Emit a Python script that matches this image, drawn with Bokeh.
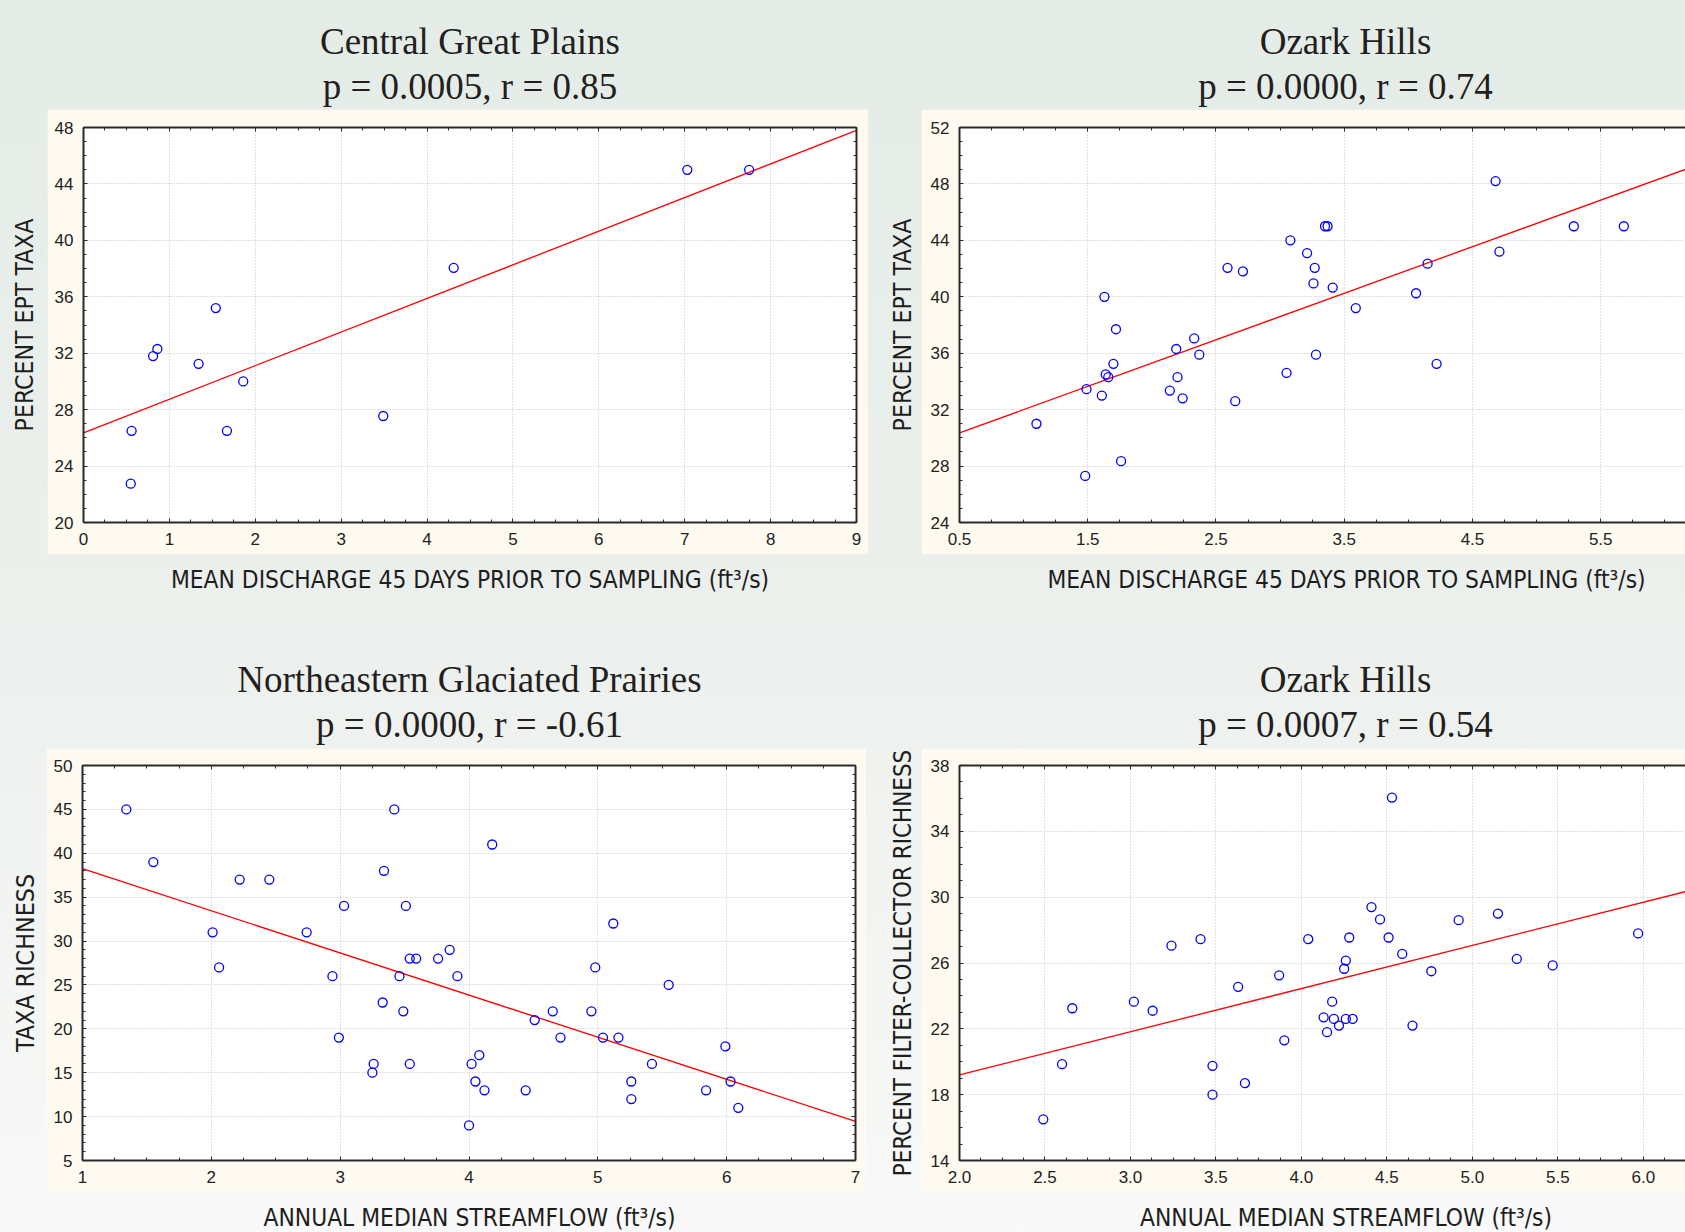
import numpy as np
from bokeh.plotting import figure
from bokeh.layouts import row, column
from bokeh.models import Range1d, LinearAxis, FixedTicker, NumeralTickFormatter
from bokeh.core.properties import value
from bokeh.embed import file_html
from bokeh.resources import INLINE

# ---------------- data ----------------
# Central Great Plains
cgp_x = [7.03, 7.75, 4.31, 1.54, 0.86, 0.81, 1.34, 1.86, 3.49, 0.56, 1.67, 0.55]
cgp_y = [45.0, 45.0, 38.05, 35.2, 32.3, 31.8, 31.25, 30.0, 27.55, 26.5, 26.5, 22.75]
cgp_fit_x = [0.0, 9.0]
cgp_fit_y = [26.35, 47.8]

# Ozark Hills (EPT)
oz1_x = [4.68, 3.35, 3.37, 5.29, 5.68, 3.08, 3.21, 4.71, 4.15, 2.59, 2.71, 3.27,
         3.26, 3.41, 4.06, 1.63, 3.59, 1.72, 2.33, 2.19, 2.37, 3.28, 1.70, 4.22,
         1.64, 1.66, 2.20, 3.05, 1.49, 2.14, 1.61, 2.24, 2.65, 1.10, 1.76, 1.48]
oz1_y = [48.2, 45.0, 45.0, 45.0, 45.0, 44.0, 43.1, 43.2, 42.35, 42.05, 41.8, 42.05,
         40.95, 40.65, 40.25, 40.0, 39.2, 37.7, 37.05, 36.3, 35.9, 35.9, 35.25, 35.25,
         34.5, 34.3, 34.3, 34.6, 33.45, 33.35, 33.0, 32.8, 32.6, 31.0, 28.35, 27.3]
oz1_fit_x = [0.5, 6.5]
oz1_fit_y = [30.35, 50.15]

# Northeastern Glaciated Prairies
ngp_x = [1.34, 3.42, 4.18, 1.55, 3.34, 2.22, 2.45, 3.03, 3.51, 5.12, 2.01, 2.74,
         3.85, 3.54, 3.59, 3.76, 2.06, 4.98, 2.94, 3.46, 3.91, 5.55, 3.33, 3.49,
         4.65, 4.95, 4.51, 2.99, 4.71, 5.04, 5.16, 5.99, 4.08, 3.26, 3.54, 4.02,
         5.42, 3.25, 4.05, 5.26, 6.03, 4.12, 4.44, 5.84, 5.26, 6.09, 4.00]
ngp_y = [45, 45, 41, 39, 38, 37, 37, 34, 34, 32, 31, 31,
         29, 28, 28, 28, 27, 27, 26, 26, 26, 25, 23, 22,
         22, 22, 21, 19, 19, 19, 19, 18, 17, 16, 16, 16,
         16, 15, 14, 14, 14, 13, 13, 13, 12, 11, 9]
ngp_fit_x = [1.0, 7.0]
ngp_fit_y = [38.25, 9.45]

# Ozark Hills (filter-collector)
oz2_x = [4.53, 4.41, 5.15, 4.46, 4.92, 5.97, 3.41, 4.04, 4.28, 4.51, 3.24, 4.59,
         4.26, 5.26, 4.25, 5.47, 4.76, 3.87, 3.63, 3.02, 4.18, 2.66, 3.13, 4.13,
         4.19, 4.26, 4.30, 4.22, 4.65, 4.15, 3.90, 2.60, 3.48, 3.67, 3.48, 2.49]
oz2_y = [36.05, 29.4, 29.0, 28.65, 28.6, 27.8, 27.45, 27.45, 27.55, 27.55, 27.05, 26.55,
         26.15, 26.25, 25.65, 25.85, 25.5, 25.25, 24.55, 23.65, 23.65, 23.25, 23.1, 22.7,
         22.6, 22.6, 22.6, 22.2, 22.2, 21.8, 21.3, 19.85, 19.75, 18.7, 18.0, 16.5]
oz2_fit_x = [2.0, 6.5]
oz2_fit_y = [19.2, 31.0]

titles = ["Central Great Plains", "Ozark Hills", "Northeastern Glaciated Prairies", "Ozark Hills"]
stats = ["p = 0.0005, r = 0.85", "p = 0.0000, r = 0.74", "p = 0.0000, r = -0.61", "p = 0.0007, r = 0.54"]
xtitles = ["MEAN DISCHARGE 45 DAYS PRIOR TO SAMPLING (ft\u00b3/s)",
           "MEAN DISCHARGE 45 DAYS PRIOR TO SAMPLING (ft\u00b3/s)",
           "ANNUAL MEDIAN STREAMFLOW (ft\u00b3/s)",
           "ANNUAL MEDIAN STREAMFLOW (ft\u00b3/s)"]
ytitles = ["PERCENT EPT TAXA", "PERCENT EPT TAXA", "TAXA RICHNESS", "PERCENT FILTER-COLLECTOR RICHNESS"]

# ---------------- style ----------------
CREAM = "#FEFAEF"
FRAME = "#2A2A2A"
GRID = "#C2C2C2"
TXT = "#1E1E1E"
SERIF = "Liberation Serif"
SANS = "Liberation Sans"
COND = "DejaVu Sans Condensed, Liberation Sans"


def band(width, height):
    p = figure(width=width, height=height, x_range=Range1d(0, width), y_range=Range1d(0, height),
               output_backend="svg", toolbar_location=None, title=None,
               x_axis_location=None, y_axis_location=None, min_border=0,
               outline_line_color=None, border_fill_color=None, background_fill_color=None)
    p.xgrid.visible = False
    p.ygrid.visible = False
    return p


def put_text(p, x, y_from_top, txt, font, size, color=TXT, angle=0.0):
    h = p.height
    p.text(x=[x], y=[h - y_from_top], text=[txt], text_font=value(font), text_font_size=value(size),
           text_color=color, text_align="center", text_baseline="middle", angle=angle)


def ylab_band(width, height, bt, bb, cx, txt, size):
    # the y title is the (unclipped) axis label of an otherwise invisible axis;
    # rows align frames, so the label is centred on the neighbouring plot frame
    L = width - 3
    p = figure(width=width, height=height, x_range=Range1d(0, 1), y_range=Range1d(0, 1),
               output_backend="svg", toolbar_location=None, title=None,
               x_axis_location=None, y_axis_location="left",
               min_border_left=L, min_border_right=0, min_border_top=bt, min_border_bottom=bb,
               outline_line_color=None, border_fill_color=None, background_fill_color=None)
    p.xgrid.visible = False
    p.ygrid.visible = False
    ax = p.yaxis[0]
    ax.ticker = FixedTicker(ticks=[], minor_ticks=[])
    ax.axis_line_color = None
    ax.major_tick_line_color = None
    ax.minor_tick_line_color = None
    ax.major_label_text_color = None
    ax.major_tick_in = 0
    ax.major_tick_out = 0
    ax.minor_tick_in = 0
    ax.minor_tick_out = 0
    ax.major_label_standoff = 0
    ax.axis_label = txt
    ax.axis_label_text_font = COND
    ax.axis_label_text_font_size = size
    ax.axis_label_text_font_style = "normal"
    ax.axis_label_text_color = TXT
    ax.axis_label_standoff = max(0, int(round(L - cx - 13)))
    return p


def panel(width, height, bl, bt, br, bb, xr, yr, xt, xm, yt, ym, xfmt,
          xs, ys, fx, fy, right_axis=True):
    p = figure(width=width, height=height, x_range=Range1d(*xr), y_range=Range1d(*yr),
               output_backend="svg", toolbar_location=None, title=None,
               min_border_left=bl, min_border_top=bt, min_border_right=br, min_border_bottom=bb,
               border_fill_color=CREAM, background_fill_color="white", outline_line_color=None)
    xtick = FixedTicker(ticks=xt, minor_ticks=xm)
    ytick = FixedTicker(ticks=yt, minor_ticks=ym)
    top = LinearAxis()
    p.add_layout(top, "above")
    extra = [top]
    if right_axis:
        rgt = LinearAxis()
        p.add_layout(rgt, "right")
        extra.append(rgt)
    for ax in p.xaxis:
        ax.ticker = xtick
        ax.formatter = NumeralTickFormatter(format=xfmt)
    for ax in p.yaxis:
        ax.ticker = ytick
        ax.formatter = NumeralTickFormatter(format="0")
    for ax in p.axis:
        ax.axis_line_color = FRAME
        ax.axis_line_width = 2
        ax.major_tick_in = 4
        ax.major_tick_out = 0
        ax.minor_tick_in = 3
        ax.minor_tick_out = 0
        ax.major_tick_line_color = FRAME
        ax.minor_tick_line_color = FRAME
        ax.major_label_text_font = SANS
        ax.major_label_text_font_size = "17px"
        ax.major_label_text_color = "#222222"
        ax.major_label_standoff = 10
    for ax in extra:
        ax.major_label_text_color = None
        ax.major_label_text_font_size = "1px"
        ax.major_label_standoff = 0
    p.xgrid.ticker = xtick
    p.ygrid.ticker = ytick
    p.grid.grid_line_color = GRID
    p.grid.grid_line_dash = "1 2"
    p.grid.grid_line_width = 1
    p.line(fx, fy, line_color="#FF0000", line_width=1.3)
    p.scatter(xs, ys, marker="circle", size=9, fill_color=None,
              line_color="#0000FF", line_width=1.3)
    return p


def ticks(a, b, step):
    return list(np.round(np.arange(a, b + step / 2, step), 4))


W = 1685
TITLE_SIZE = "37px"
XT_SIZE = "24.3px"

# Row A: titles of the top row
bandA = band(W, 109)
for cx, t, s in [(469.5, titles[0], stats[0]), (1345, titles[1], stats[1])]:
    put_text(bandA, cx, 41, t, SERIF, TITLE_SIZE, "#231F20")
    put_text(bandA, cx, 86, s, SERIF, TITLE_SIZE, "#231F20")

# Row B: top plots
yA = ylab_band(47, 445, 18, 32, 25.5, ytitles[0], "24.6px")
pA = panel(821, 445, 36, 18, 12, 32, (0, 9), (20, 48),
           ticks(0, 9, 1), ticks(0, 9, 0.25), ticks(20, 48, 4), ticks(20, 48, 1), "0",
           cgp_x, cgp_y, cgp_fit_x, cgp_fit_y)
yB = ylab_band(53, 445, 18, 32, 35, ytitles[1], "24.6px")
pB = panel(764, 445, 38, 18, 0, 32, (0.5, 6.161), (24, 52),
           ticks(0.5, 6.5, 1), ticks(0.5, 6.5, 0.25), ticks(24, 52, 4), ticks(24, 52, 1), "0.0",
           oz1_x, oz1_y, oz1_fit_x, oz1_fit_y, right_axis=False)

# Row C: x titles of the top row + titles of the bottom row
bandC = band(W, 194)
put_text(bandC, 469.5, 25, xtitles[0], COND, XT_SIZE)
put_text(bandC, 1346, 25, xtitles[1], COND, XT_SIZE)
for cx, t, s in [(469, titles[2], stats[2]), (1345, titles[3], stats[3])]:
    put_text(bandC, cx, 125, t, SERIF, TITLE_SIZE, "#231F20")
    put_text(bandC, cx, 170, s, SERIF, TITLE_SIZE, "#231F20")

# Row D: bottom plots
yC = ylab_band(46, 443, 17, 31, 26, ytitles[2], "24.8px")
pC = panel(820, 443, 36, 17, 11, 31, (1, 7), (5, 50),
           ticks(1, 7, 1), ticks(1, 7, 0.25), ticks(5, 50, 5), ticks(5, 50, 1), "0",
           ngp_x, ngp_y, ngp_fit_x, ngp_fit_y)
yD = ylab_band(55, 443, 17, 31, 37, ytitles[3], "23.9px")
pD = panel(764, 443, 38, 17, 0, 31, (2.0, 6.247), (14, 38),
           ticks(2, 6.5, 0.5), ticks(2, 6.5, 0.125), ticks(14, 38, 4), ticks(14, 38, 1), "0.0",
           oz2_x, oz2_y, oz2_fit_x, oz2_fit_y, right_axis=False)

# Row E: x titles of the bottom row
bandE = band(W, 41)
put_text(bandE, 469, 26, xtitles[2], COND, XT_SIZE)
put_text(bandE, 1345.5, 26, xtitles[3], COND, XT_SIZE)

layout = column(
    bandA,
    row(yA, pA, yB, pB),
    bandC,
    row(yC, pC, yD, pD),
    bandE,
    styles={"background": "linear-gradient(180deg, #E4ECE7 0%, #ECF0ED 50%, #F8F9F8 100%)"},
)

open("out.html", "w").write(file_html(layout, INLINE))
